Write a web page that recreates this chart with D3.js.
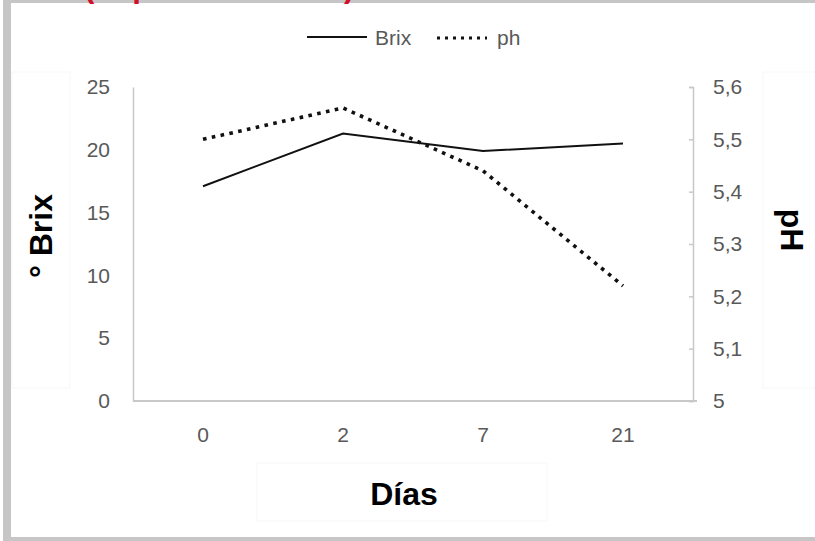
<!DOCTYPE html>
<html>
<head>
<meta charset="utf-8">
<script src="https://cdn.jsdelivr.net/npm/d3@7"></script>
<style>
  body { margin: 0; background: #fff; }
  svg { display: block; }
</style>
</head>
<body>
<svg id="chart" width="815" height="541"></svg>
<script>
// data
const days = ["0", "2", "7", "21"];
const brix = [17.1, 21.3, 19.9, 20.5];
const ph = [5.50, 5.56, 5.44, 5.22];
const brixTicks = [0, 5, 10, 15, 20, 25];
const phTicks = [5, 5.1, 5.2, 5.3, 5.4, 5.5, 5.6];

const svg = d3.select('#chart');
const W = 815, H = 541;
const plot = { left: 133, right: 693, top: 87, bottom: 401 };

const es = d3.formatLocale({ decimal: ',', thousands: '.', grouping: [3], currency: ['', ''] });
const fmtPh = es.format('~g');

// frame of the cropped page
svg.append('rect').attr('x', 3).attr('y', 0).attr('width', 8).attr('height', H).attr('fill', '#c6c6c6');
svg.append('rect').attr('x', 3).attr('y', 0).attr('width', W).attr('height', 3).attr('fill', '#c6c6c6');
svg.append('rect').attr('x', 3).attr('y', 537).attr('width', W).attr('height', 4).attr('fill', '#c6c6c6');

// cut-off red heading (only its descenders show)
svg.append('text')
    .attr('x', 84).attr('y', -3)
    .attr('fill', '#d0102a')
    .attr('font-family', 'Liberation Sans, Arial, sans-serif')
    .attr('font-weight', 'bold').attr('font-size', 31)
    .text('(Experimentación)');

// faint title boxes
const boxes = [[12, 72, 58, 316], [763, 72, 60, 316], [257, 463, 290, 58]];
svg.selectAll('.tbox').data(boxes).join('rect')
    .attr('class', 'tbox')
    .attr('x', d => d[0]).attr('y', d => d[1]).attr('width', d => d[2]).attr('height', d => d[3])
    .attr('fill', 'none').attr('stroke', '#f7f7f7').attr('stroke-width', 1);

const x = d3.scaleBand().domain(days).range([plot.left, plot.right]);
const yL = d3.scaleLinear().domain([0, 25]).range([plot.bottom, plot.top]);
const yR = d3.scaleLinear().domain([5, 5.6]).range([plot.bottom, plot.top]);

const tickFont = g => g.selectAll('text')
    .attr('fill', '#595959')
    .attr('font-family', 'Liberation Sans, Arial, sans-serif')
    .attr('font-size', 21);

// left axis
svg.append('g')
    .attr('transform', `translate(${plot.left},0)`)
    .call(d3.axisLeft(yL).tickValues(brixTicks).tickSize(0).tickPadding(23))
    .call(g => g.select('.domain').attr('stroke', '#c8c8c8').attr('stroke-width', 1.5))
    .call(tickFont);

// right axis, ticks point inwards
svg.append('g')
    .attr('transform', `translate(${plot.right},0)`)
    .call(d3.axisRight(yR).tickValues(phTicks).tickFormat(fmtPh).tickSizeInner(-4).tickSizeOuter(-4).tickPadding(20))
    .call(g => g.select('.domain').attr('stroke', '#c8c8c8').attr('stroke-width', 1.5))
    .call(g => g.selectAll('.tick line').attr('stroke', '#c8c8c8').attr('stroke-width', 1.5))
    .call(tickFont);

// bottom axis
svg.append('g')
    .attr('transform', `translate(0,${plot.bottom})`)
    .call(d3.axisBottom(x).tickSize(0).tickPadding(26))
    .call(g => g.select('.domain').attr('stroke', '#c8c8c8').attr('stroke-width', 2).attr('d', `M${plot.left},0H${plot.right + 4}`))
    .call(tickFont);

// series
const cx = d => x(d) + x.bandwidth() / 2;
const lineBrix = d3.line().x((d, i) => cx(days[i])).y(d => yL(d));
const linePh = d3.line().x((d, i) => cx(days[i])).y(d => yR(d));

svg.append('path').datum(ph)
    .attr('d', linePh)
    .attr('fill', 'none').attr('stroke', '#111')
    .attr('stroke-width', 3.6).attr('stroke-dasharray', '3.6 5.4');

svg.append('path').datum(brix)
    .attr('d', lineBrix)
    .attr('fill', 'none').attr('stroke', '#111')
    .attr('stroke-width', 2);

// legend
const legend = svg.append('g').attr('font-family', 'Liberation Sans, Arial, sans-serif')
    .attr('font-size', 21).attr('fill', '#595959');
legend.append('line').attr('x1', 307).attr('x2', 367).attr('y1', 37).attr('y2', 37)
    .attr('stroke', '#111').attr('stroke-width', 2);
legend.append('text').attr('x', 375).attr('y', 45).text('Brix');
legend.append('line').attr('x1', 437).attr('x2', 487).attr('y1', 38).attr('y2', 38)
    .attr('stroke', '#111').attr('stroke-width', 3.2).attr('stroke-dasharray', '3 5');
legend.append('text').attr('x', 497).attr('y', 45).text('ph');

// axis titles
const titleFont = s => s.attr('font-family', 'Liberation Sans, Arial, sans-serif')
    .attr('font-weight', 'bold').attr('font-size', 32).attr('fill', '#000')
    .attr('text-anchor', 'middle');

svg.append('text').call(titleFont)
    .attr('transform', 'translate(52,236) rotate(-90)')
    .text('° Brix');

svg.append('text').call(titleFont)
    .attr('transform', 'translate(781,230) rotate(90)')
    .text('pH');

svg.append('text').call(titleFont)
    .attr('x', 404).attr('y', 505)
    .text('Días');
</script>
</body>
</html>
